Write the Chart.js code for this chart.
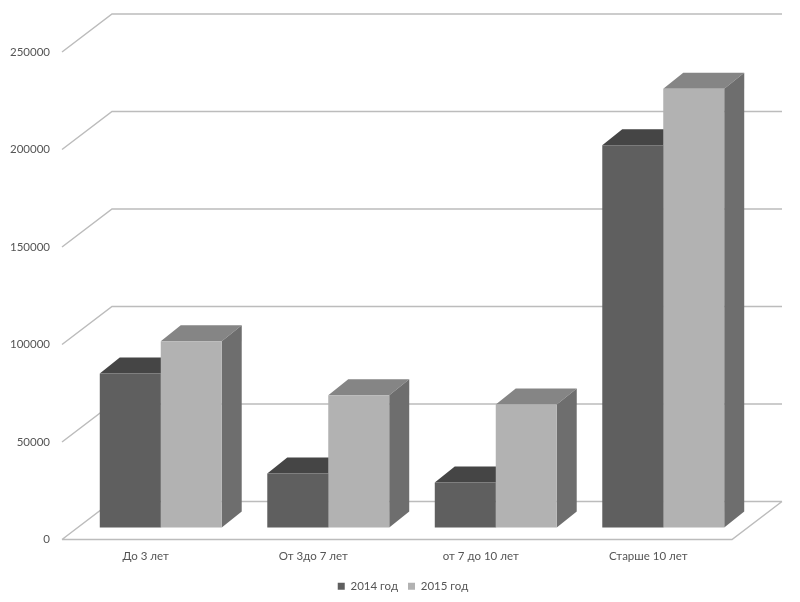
<!DOCTYPE html>
<html lang="ru">

<head>
    <meta charset="UTF-8">
    <title>Сравнение 2014 и 2015</title>
    <script src="https://cdn.jsdelivr.net/npm/chart.js"></script>
    <style>
        body { margin: 0; background: #fff; }
    </style>
</head>

<body>
    <canvas id="chart" width="800" height="602"></canvas>

    <script>
        const categories = ["До 3 лет", "От 3до 7 лет", "от 7 до 10 лет", "Старше 10 лет"];
        const values2014 = [79000, 27700, 23100, 196000];
        const values2015 = [95500, 67800, 63100, 225000];
        const seriesNames = ["2014 год", "2015 год"];

        // сдвиг задней стенки и объём столбцов, px
        const wallDx = 50, wallDy = -38;
        const barShiftX = 15, barShiftY = -12;
        const barDx = 20, barDy = -16;

        const faces = [
            { top: "#454545", side: "#505050" },
            { top: "#858585", side: "#6e6e6e" }
        ];

        function poly(ctx, pts, color) {
            ctx.fillStyle = color;
            ctx.beginPath();
            pts.forEach((p, i) => i ? ctx.lineTo(p[0], p[1]) : ctx.moveTo(p[0], p[1]));
            ctx.closePath();
            ctx.fill();
        }

        const fake3d = {
            id: "fake3d",
            afterLayout(chart) {
                // легенда центрируется по всему холсту, а не по области графика
                chart.legend.left = 6;
                chart.legend.right = chart.width;
            },
            beforeDatasetsDraw(chart) {
                const ctx = chart.ctx;
                const y = chart.scales.y;
                const area = chart.chartArea;

                // стенка и пол
                ctx.save();
                ctx.strokeStyle = "#bcbcbc";
                ctx.lineWidth = 1.5;
                ctx.beginPath();
                y.ticks.forEach(t => {
                    const py = y.getPixelForValue(t.value);
                    ctx.moveTo(area.left, py);
                    ctx.lineTo(area.left + wallDx, py + wallDy);
                    ctx.lineTo(area.right + wallDx, py + wallDy);
                });
                const y0 = y.getPixelForValue(0);
                ctx.moveTo(area.left, y0);
                ctx.lineTo(area.right, y0);
                ctx.lineTo(area.right + wallDx, y0 + wallDy);
                ctx.stroke();
                ctx.restore();

                // верх и бок столбцов
                ctx.save();
                ctx.translate(barShiftX, barShiftY);
                [0, 1].forEach(i => {
                    chart.getDatasetMeta(i).data.forEach(b => {
                        const l = b.x - b.width / 2, r = b.x + b.width / 2;
                        poly(ctx, [[l, b.y], [r, b.y], [r + barDx, b.y + barDy], [l + barDx, b.y + barDy]], faces[i].top);
                        poly(ctx, [[r, b.y], [r + barDx, b.y + barDy], [r + barDx, b.base + barDy], [r, b.base]], faces[i].side);
                    });
                });
                ctx.restore();

                // передняя грань рисуется самим Chart.js, только со сдвигом
                ctx.save();
                ctx.translate(barShiftX, barShiftY);
            },
            afterDatasetsDraw(chart) {
                chart.ctx.restore();
            }
        };

        new Chart(document.getElementById("chart"), {
            type: "bar",
            data: {
                labels: categories,
                datasets: [
                    { label: seriesNames[0], data: values2014, backgroundColor: "#5f5f5f", clip: false },
                    { label: seriesNames[1], data: values2015, backgroundColor: "#b2b2b2", clip: false }
                ]
            },
            options: {
                responsive: false,
                animation: false,
                layout: { padding: { top: 52, right: 68, bottom: 0, left: 0 } },
                datasets: { bar: { categoryPercentage: 0.728, barPercentage: 1 } },
                scales: {
                    x: {
                        grid: { display: false },
                        border: { display: false },
                        ticks: { color: "#555", padding: 2, maxRotation: 0, font: { family: "Lato", size: 11.5 } },
                        afterFit(scale) { scale.height = 31; }
                    },
                    y: {
                        min: 0,
                        max: 250000,
                        grid: { display: false },
                        border: { display: false },
                        ticks: { stepSize: 50000, color: "#555", padding: 4, font: { family: "Lato", size: 11.5 }, callback: v => String(v) },
                        afterFit(scale) { scale.width = 62; }
                    }
                },
                plugins: {
                    tooltip: { enabled: false },
                    legend: {
                        position: "bottom",
                        labels: { boxWidth: 7, boxHeight: 7, padding: 10, color: "#555", font: { family: "Lato", size: 11.5 } }
                    }
                }
            },
            plugins: [fake3d]
        });
    </script>
</body>

</html>
